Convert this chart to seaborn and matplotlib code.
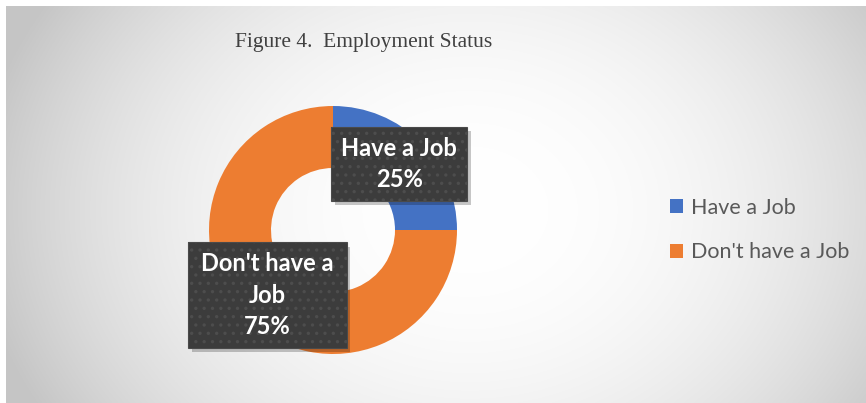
import numpy as np
import matplotlib
matplotlib.use("Agg")
import matplotlib.pyplot as plt
from matplotlib.patches import Rectangle, Patch
import seaborn as sns

# Chart data
categories = ["Have a Job", "Don't have a Job"]
values = [25, 75]
label_texts = ["Have a Job", "Don't have a\nJob"]
title = "Figure 4.  Employment Status"

sns.set_theme(style="white")
plt.rcParams["font.family"] = ["Lato", "DejaVu Sans"]
plt.rcParams["hatch.linewidth"] = 1.2

palette = sns.color_palette(["#4472C4", "#ED7D31"])

W, H = 866, 403
fig = plt.figure(figsize=(W / 100, H / 100), dpi=100)
fig.patch.set_facecolor("white")

# Radial gradient backdrop of the chart area
bg = fig.add_axes([6 / W, 0, (W - 6) / W, (H - 6) / H])
bg.set_axis_off()
xs = np.linspace(6, W, 600)
ys = np.linspace(6, H, 300)
X, Y = np.meshgrid(xs, ys)
r = np.sqrt(((X - 470) / 470) ** 2 + ((Y - 210) / 380) ** 2)
shade = 1 - 0.2 * np.clip(r, 0, 1.06) ** 2.2
img = np.dstack([shade, shade, shade])
bg.imshow(np.clip(img, 0, 1), extent=[0, 1, 0, 1], aspect="auto", origin="upper")
bg.set_xlim(0, 1)
bg.set_ylim(0, 1)

fig.text(364 / W, 1 - 42 / H, title, ha="center", va="center",
         fontsize=15.5, color="#404040", family=["Liberation Serif"])

# Donut
cx, cy, rad = 333, 230, 124
ax = fig.add_axes([(cx - rad) / W, (H - cy - rad) / H, 2 * rad / W, 2 * rad / H])
ax.set_axis_off()
wedges, _ = ax.pie(values, colors=palette, startangle=90, counterclock=False,
                   radius=1, wedgeprops=dict(width=0.5, edgecolor="none"))
ax.set_xlim(-1, 1)
ax.set_ylim(-1, 1)
ax.set_aspect("equal")

total = sum(values)
percents = [round(v / total * 100) for v in values]

# Data-label boxes (x0, y0, width, height) in donut units
boxes = [(-0.016, 0.234, 1.10, 0.60), (-1.17, -0.95, 1.28, 0.85)]
for (x0, y0, bw, bh), txt, pct in zip(boxes, label_texts, percents):
    ax.add_patch(Rectangle((x0 + 0.03, y0 - 0.035), bw, bh, facecolor="#000000",
                           alpha=0.22, edgecolor="none", clip_on=False, zorder=4))
    ax.add_patch(Rectangle((x0, y0), bw, bh, facecolor="#3c3c3c", edgecolor="#4d4d4d",
                           linewidth=0, hatch="..", clip_on=False, zorder=5))
    ax.add_patch(Rectangle((x0, y0), bw, bh, facecolor="none", edgecolor="#4a4a4a",
                           linewidth=0.8, clip_on=False, zorder=6))
    ax.text(x0 + bw / 2, y0 + bh / 2, f"{txt}\n{pct}%", ha="center", va="center",
            color="white", fontsize=17, fontweight="bold", linespacing=1.45,
            zorder=7, clip_on=False)

handles = [Patch(facecolor=c, edgecolor="none") for c in palette]
fig.legend(handles, categories, loc="center left",
           bbox_to_anchor=(651 / W, 1 - 230 / H), frameon=False,
           fontsize=15.5, labelcolor="#595959", handlelength=0.6,
           handleheight=0.6, handletextpad=0.35, labelspacing=1.15)

fig.savefig("out.png", dpi=100)
